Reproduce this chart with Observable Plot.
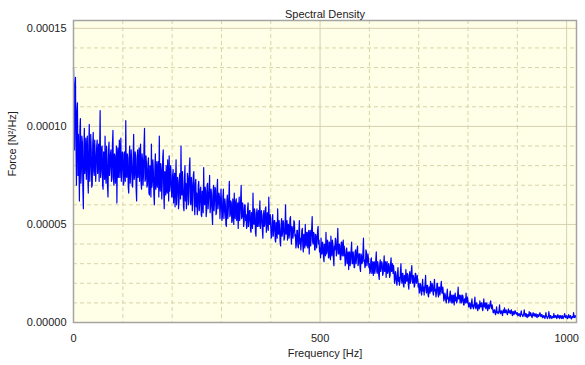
<!DOCTYPE html>
<html>
<head>
<meta charset="utf-8">
<script src="https://cdn.jsdelivr.net/npm/d3@7"></script>
<script src="https://cdn.jsdelivr.net/npm/@observablehq/plot@0.6"></script>
<style>
  html, body { margin: 0; padding: 0; background: #ffffff; }
</style>
</head>
<body>
<div id="chart"></div>
<script>
// Spectral density values in units of 1e-6 N²/Hz, one value every 1 Hz from 0 Hz
const freqStart = 0;
const freqStep = 1;
const psdMicro = [
  // 0-49 Hz
  130,118, 88,121, 125,92, 70,108, 112,75, 96,82, 62,98, 104,71, 78,95, 92,68, 58,89, 99,76, 84,94, 73,87, 95,74, 66,90, 101,72, 80,96, 88,69, 70,91, 97,77, 75,93, 86,72, 79,90, 93,76,
  // 50-99
  84,91, 72,88, 108,74, 77,89, 90,70, 68,87, 86,73, 95,76, 71,90, 83,69, 64,88, 92,75, 79,86, 88,72, 74,91, 98,73, 70,86, 85,71, 77,90, 61,84, 89,74, 82,93, 74,85, 94,72, 78,87,
  // 100-149
  86,70, 71,87, 80,72, 103,75, 74,86, 84,69, 66,85, 90,71, 77,88, 82,70, 69,84, 96,73, 75,87, 85,68, 62,83, 88,74, 79,89, 72,84, 91,71, 68,86, 83,70, 76,90, 99,72, 73,85, 81,69,
  // 150-199
  70,81, 84,66, 65,80, 79,64, 91,69, 72,83, 77,65, 60,79, 86,68, 74,82, 69,78, 82,64, 95,70, 67,81, 78,63, 71,84, 88,66, 58,77, 76,65, 80,68, 66,83, 73,62, 85,67, 70,80, 75,64,
  // 200-249
  64,75, 78,61, 70,76, 59,72, 83,60, 66,74, 72,58, 62,75, 76,63, 90,66, 65,77, 69,59, 57,73, 80,62, 71,58, 63,76, 74,60, 68,79, 84,61, 60,74, 70,57, 66,75, 77,60, 55,71, 73,59,
  // 250-299
  66,55, 58,70, 72,57, 61,68, 69,55, 54,67, 64,56, 79,61, 60,69, 67,54, 57,70, 71,58, 63,67, 75,56, 59,68, 65,55, 50,66, 70,57, 62,69, 68,55, 56,67, 73,58, 61,66, 64,53, 59,68,
  // 300-349
  62,52, 54,64, 68,53, 57,63, 60,50, 49,62, 65,53, 58,64, 72,54, 55,62, 61,51, 52,63, 59,50, 66,55, 53,62, 63,52, 57,61, 48,59, 64,52, 56,63, 70,53, 54,61, 58,49, 51,60, 60,52,
  // 350-399
  55,48, 49,58, 61,49, 52,57, 57,47, 46,56, 54,48, 66,51, 50,58, 56,46, 44,55, 58,49, 53,57, 49,56, 62,48, 51,57, 55,47, 43,54, 57,49, 50,58, 59,46, 48,56, 53,47, 64,50, 50,55,
  // 400-449
  49,43, 44,53, 55,44, 47,52, 52,42, 41,51, 50,43, 58,46, 45,52, 48,41, 39,50, 53,44, 46,52, 51,42, 43,49, 60,45, 47,52, 42,50, 50,43, 45,53, 54,44, 40,49, 48,43, 46,52, 51,44,
  // 450-499
  45,38, 40,47, 47,39, 38,46, 52,40, 43,37, 41,47, 48,39, 36,45, 44,38, 50,41, 39,46, 46,38, 42,47, 35,44, 47,39, 43,48, 54,41, 40,46, 45,37, 37,45, 44,38, 41,47, 49,40, 42,36,
  // 500-549
  38,33, 43,35, 35,41, 40,33, 31,40, 39,34, 46,35, 36,42, 41,33, 33,41, 38,32, 44,36, 34,42, 40,33, 29,39, 37,43, 42,34, 36,41, 48,35, 35,40, 39,32, 32,41, 41,34, 37,42, 34,39,
  // 550-599
  35,29, 31,37, 38,30, 33,36, 27,35, 36,29, 32,37, 41,30, 30,36, 34,28, 28,36, 37,30, 33,37, 39,29, 30,35, 35,28, 26,35, 34,30, 31,36, 43,31, 32,28, 29,37, 36,29, 31,35, 33,28,
  // 600-649
  30,25, 26,32, 33,25, 28,31, 24,30, 31,25, 27,32, 36,26, 25,31, 29,24, 22,30, 32,26, 28,31, 30,24, 25,30, 34,26, 27,31, 23,29, 31,25, 26,30, 29,23, 24,30, 33,26, 27,30, 25,29,
  // 650-699
  26,20, 22,26, 24,20, 19,25, 28,21, 23,19, 21,26, 30,22, 20,25, 25,19, 18,24, 23,20, 27,22, 21,25, 24,19, 17,24, 26,20, 22,26, 29,21, 20,24, 23,18, 19,25, 25,20, 21,24, 22,18,
  // 700-749
  20,15, 16,20, 19,15, 14,19, 22,16, 18,14, 17,20, 24,16, 15,19, 19,14, 13,18, 18,15, 21,16, 16,20, 19,15, 14,19, 22,16, 17,13, 15,20, 20,15, 13,18, 18,14, 16,19, 21,15, 15,18,
  // 750-799
  15,11, 12,15, 14,11, 10,14, 17,12, 13,10, 11,14, 16,11, 10,14, 14,10, 12,14, 9,13, 15,11, 13,10, 11,14, 18,12, 12,14, 10,13, 14,10, 11,14, 13,9, 9,12, 12,10, 15,11, 10,13,
  // 800-849
  11,8, 8,10, 10,7, 7,10, 12,8, 9,7, 8,10, 13,8, 7,10, 10,7, 6,9, 9,7, 11,8, 8,10, 10,7, 6,9, 12,8, 8,10, 7,9, 10,7, 6,9, 9,7, 8,10, 11,8, 7,9,
  // 850-899
  7,5, 5,6.5, 6.5,4.5, 4,6, 8,5, 5.5,4.5, 5,6.5, 9,5, 4.5,6, 6,4.5, 3.5,6, 6.5,5, 7.5,5, 5,6.5, 6,4.5, 4,6, 7,5, 5,6, 4.5,6, 6.5,4.5, 3.5,5.5, 5.5,4, 4.5,6, 6,4.5, 5,4,
  // 900-949
  5,3.5, 3.5,4.5, 4.5,3.5, 3,4.5, 6,4, 4,3, 3.5,4.5, 6.5,4, 3,4.5, 4.5,3, 2.5,4, 4,3, 5.5,4, 3.5,5, 4.5,3, 2.5,4, 5,3.5, 4,4.5, 3,4, 4.5,3, 2.5,4, 4,3, 3.5,4.5, 5,3.5, 3,4,
  // 950-999
  4,2.5, 2.5,3.5, 3.5,2.5, 2,3.5, 5,3, 3,2, 2.5,3.5, 5.5,3, 2,3.5, 3.5,2.5, 2,3, 3,2.5, 4.5,3, 2.5,3.5, 3.5,2.5, 2,3.5, 4,2.5, 3,3.5, 2,3, 3.5,2.5, 2,3.5, 3,2, 2.5,3.5, 4.5,3, 2.5,3.5,
  // 1000-1019
  3,2.2, 2,3.5, 4,2.5, 2.5,3.5, 3.5,2, 1.8,3, 3,2.5, 5,3, 2.5,3.5, 3.5,2.5
];

const xMajorTicks = [0, 500, 1000];
const xMinorTicks = [100, 200, 300, 400, 600, 700, 800, 900];
const yMajorTicks = [0, 0.00005, 0.0001, 0.00015];
const yMinorTicks = [0.00001, 0.00002, 0.00003, 0.00004, 0.00006, 0.00007, 0.00008, 0.00009,
                     0.00011, 0.00012, 0.00013, 0.00014];

const titleText = "Spectral Density";
const xTitle = "Frequency [Hz]";
const yTitle = "Force [N²/Hz]";

const data = psdMicro.map((v, i) => ({freq: freqStart + i * freqStep, psd: v * 1e-6}));

const gridColor = "#d6d1ae";
const minorColor = "#d9d3a8";

const chart = Plot.plot({
  width: 585,
  height: 365,
  marginTop: 20,
  marginLeft: 73,
  marginRight: 9,
  marginBottom: 43,
  style: {fontFamily: "'Liberation Sans', Arial, sans-serif", fontSize: "11px", color: "#222", background: "#ffffff"},
  x: {domain: [0, 1020]},
  y: {domain: [0, 0.000154]},
  marks: [
    Plot.frame({fill: "#ffffe8"}),
    Plot.gridX(xMinorTicks, {stroke: minorColor, strokeOpacity: 1, strokeDasharray: "4,3"}),
    Plot.gridY(yMinorTicks, {stroke: minorColor, strokeOpacity: 1, strokeDasharray: "4,3"}),
    Plot.gridX(xMajorTicks, {stroke: gridColor, strokeOpacity: 1}),
    Plot.gridY(yMajorTicks, {stroke: gridColor, strokeOpacity: 1}),
    Plot.lineY(data, {x: "freq", y: "psd", stroke: "#0000ff", strokeWidth: 1.2}),
    Plot.frame({stroke: "#a4a4a0", strokeWidth: 1.5}),
    Plot.axisX(xMajorTicks, {tickSize: 0, tickPadding: 12, tickFormat: d3.format("d"), label: null, fill: "#222"}),
    Plot.axisY(yMajorTicks, {tickSize: 0, tickPadding: 7, tickFormat: d3.format(".5f"), label: null, fill: "#222"}),
    Plot.text([titleText], {frameAnchor: "top", dy: -10, fill: "#222"}),
    Plot.text([xTitle], {frameAnchor: "bottom", dy: 34, fill: "#222"}),
    Plot.text([yTitle], {frameAnchor: "left", dx: -61, dy: 5, rotate: -90, fill: "#222"})
  ]
});

document.getElementById("chart").appendChild(chart);
</script>
</body>
</html>
